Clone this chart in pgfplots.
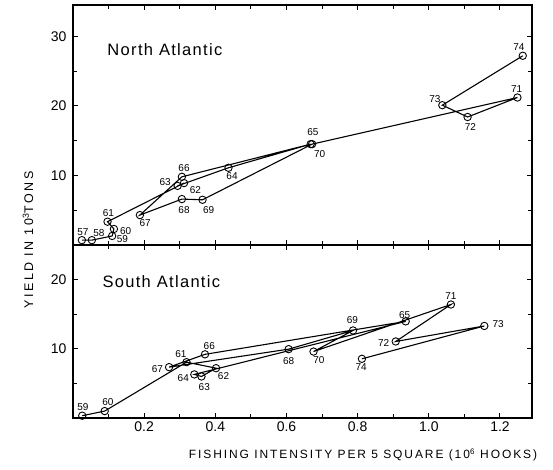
\documentclass[border=0pt]{standalone}
\usepackage{fontspec}
\setmainfont{Liberation Sans}
\newfontfamily\spacedfont[LetterSpace=8]{Liberation Sans}
\newfontfamily\ylfont[LetterSpace=20]{Liberation Sans}
\newfontfamily\widefont[LetterSpace=16]{Liberation Sans}
\usepackage{pgfplots}
\pgfplotsset{compat=1.18}
\pgfplotstableread{
x y
0.025 0.7
0.053 0.7
0.110 1.3
0.115 2.3
0.097 3.35
0.312 8.9
0.294 8.5
0.437 11.1
0.668 14.5
0.306 9.8
0.188 4.3
0.306 6.6
0.364 6.5
0.672 14.5
1.249 21.2
1.109 18.4
1.038 20.1
1.264 27.2
}\north
\pgfplotstableread{
x y
0.026 0.33
0.089 1.0
0.319 8.07
0.402 7.2
0.361 6.0
0.341 6.3
0.935 13.96
0.371 9.2
0.270 7.35
0.606 9.95
0.787 12.65
0.676 9.6
1.062 16.4
0.907 11.06
1.156 13.3
0.812 8.55
}\south
\pgfplotsset{
  panel/.style={
    scale only axis, width=459pt, xmin=0, xmax=1.29,
    xtick={0.2,0.4,0.6,0.8,1.0,1.2},
    minor xtick={0.1,0.3,0.5,0.7,0.9,1.1},
    axis line style={line width=1.3pt},
    every tick/.style={black, line width=1pt},
    major tick length=5pt, minor tick length=4pt,
    tick align=inside,
    /pgf/number format/assume math mode=true,
    tick label style={font=\fontsize{14}{14}\selectfont},
    yticklabel style={xshift=-3pt},
    xticklabel style={/pgf/number format/.cd, fixed, fixed zerofill, precision=1},
    clip=false,
  },
  series/.style={black, line width=1.1pt, mark=o, mark size=3.7pt,
    mark options={fill=white, solid, line width=0.9pt}},
}
\tikzset{yr/.style={font=\fontsize{10}{10}\selectfont, inner sep=0pt}}
\begin{document}
\begin{tikzpicture}
\useasboundingbox (-73pt,5pt) rectangle (480pt,-465pt);
\begin{axis}[panel, name=top, at={(0pt,0pt)}, anchor=north west,
  height=240pt, ymin=0, ymax=34.5, ytick={10,20,30}, minor ytick={5,15,25},
  xticklabels={}]
\addplot[series] table[x=x,y=y] {\north};
\node[anchor=west, font=\spacedfont\fontsize{16.5}{16.5}\selectfont] at (axis cs:0.087,28.05) {North Atlantic};
\node[yr] at (axis cs:0.028,1.9) {57};
\node[yr] at (axis cs:0.073,1.7) {58};
\node[yr] at (axis cs:0.139,0.8) {59};
\node[yr] at (axis cs:0.148,2.06) {60};
\node[yr] at (axis cs:0.0995,4.65) {61};
\node[yr] at (axis cs:0.344,7.9) {62};
\node[yr] at (axis cs:0.259,9.1) {63};
\node[yr] at (axis cs:0.447,9.97) {64};
\node[yr] at (axis cs:0.674,16.2) {65};
\node[yr] at (axis cs:0.312,11.1) {66};
\node[yr] at (axis cs:0.203,3.2) {67};
\node[yr] at (axis cs:0.312,5.04) {68};
\node[yr] at (axis cs:0.381,5.04) {69};
\node[yr] at (axis cs:0.693,13.05) {70};
\node[yr] at (axis cs:1.247,22.4) {71};
\node[yr] at (axis cs:1.117,17.0) {72};
\node[yr] at (axis cs:1.017,21.05) {73};
\node[yr] at (axis cs:1.253,28.4) {74};
\end{axis}
\begin{axis}[panel, name=bot, at={(top.south west)}, anchor=north west,
  height=173pt, ymin=0, ymax=25, ytick={10,20}, minor ytick={5,15}]
\addplot[series] table[x=x,y=y] {\south};
\node[anchor=west, font=\spacedfont\fontsize{16.5}{16.5}\selectfont] at (axis cs:0.073,19.7) {South Atlantic};
\node[yr] at (axis cs:0.028,1.64) {59};
\node[yr] at (axis cs:0.098,2.27) {60};
\node[yr] at (axis cs:0.303,9.23) {61};
\node[yr] at (axis cs:0.423,6.13) {62};
\node[yr] at (axis cs:0.369,4.45) {63};
\node[yr] at (axis cs:0.31,5.75) {64};
\node[yr] at (axis cs:0.932,14.93) {65};
\node[yr] at (axis cs:0.383,10.43) {66};
\node[yr] at (axis cs:0.237,7.14) {67};
\node[yr] at (axis cs:0.606,8.26) {68};
\node[yr] at (axis cs:0.785,14.2) {69};
\node[yr] at (axis cs:0.691,8.4) {70};
\node[yr] at (axis cs:1.062,17.58) {71};
\node[yr] at (axis cs:0.873,10.9) {72};
\node[yr] at (axis cs:1.195,13.58) {73};
\node[yr] at (axis cs:0.81,7.29) {74};
\end{axis}
\node[rotate=90, font=\ylfont\fontsize{12.5}{12.5}\selectfont] at (-45pt,-235pt) {YIELD IN 10\textsuperscript{3}TONS};
\node[font=\widefont\fontsize{12}{12}\selectfont] at (290pt,-450pt) {FISHING INTENSITY PER 5 SQUARE (10\textsuperscript{6} HOOKS)};
\end{tikzpicture}
\end{document}
